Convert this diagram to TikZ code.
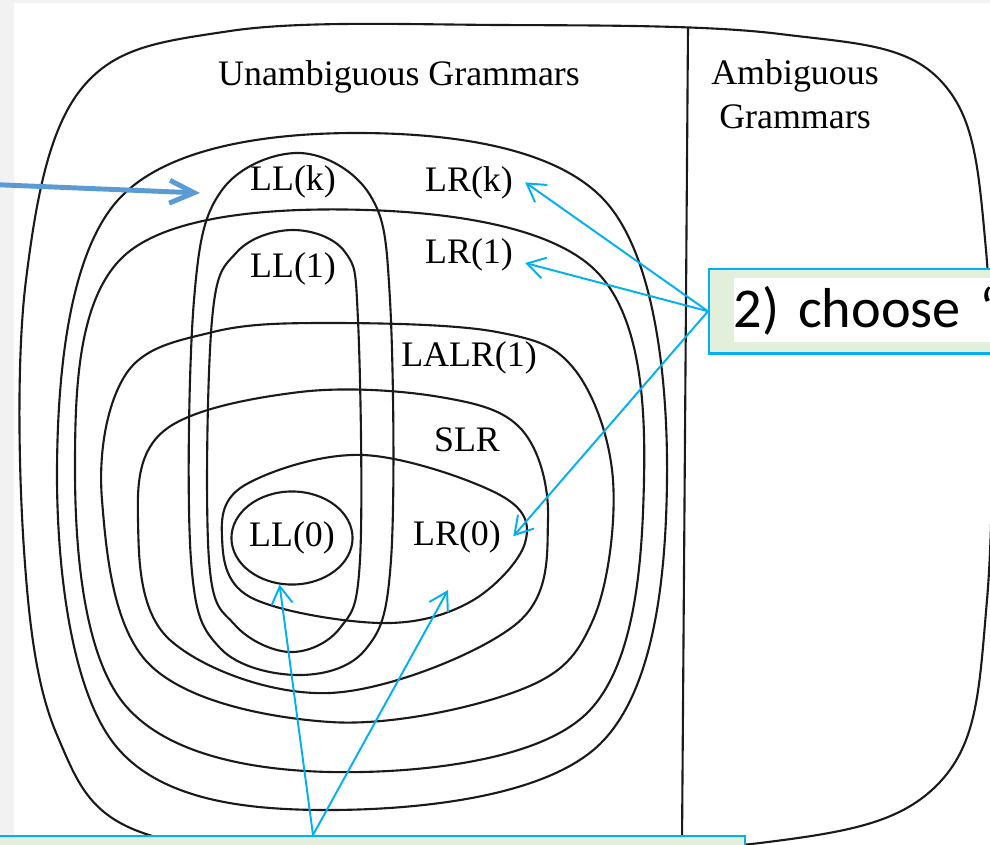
\documentclass[tikz,border=0pt]{standalone}
\usepackage{fontspec}
\setmainfont{Liberation Serif}
\newfontfamily\calloutfont{Carlito}
\usetikzlibrary{arrows.meta,shapes.geometric}
\definecolor{inkblack}{RGB}{26, 26, 26}
\definecolor{calloutcyan}{RGB}{0, 176, 240}
\definecolor{calloutgreen}{RGB}{226, 239, 218}
\definecolor{pointerblue}{RGB}{91, 155, 213}
\definecolor{pagegray}{RGB}{242, 242, 242}

\begin{document}
\begin{tikzpicture}[
    x=0.01cm, y=-0.01cm,
    region/.style={draw=inkblack, line width=0.6pt},
    loop/.style={smooth cycle, tension=0.6},
    setfont/.style={font=\fontsize{10.2}{12.25}\selectfont},
    setlabel/.style={setfont, anchor=base},
    callout/.style={
      rectangle,
      draw=calloutcyan,
      line width=0.7pt,
      fill=calloutgreen
    },
    hint/.style={-{Straight Barb[length=5pt, width=6pt]}, calloutcyan, line width=0.55pt},
    pointer/.style={-{Straight Barb[length=7pt, width=6.5pt]}, pointerblue, line width=1.4pt, line cap=round}
  ]
    \useasboundingbox (0,0) rectangle (990,845);
    \clip (0,0) rectangle (990,845);
    \fill[pagegray] (0,0) rectangle (990,845);
    \fill[white] (14,3) rectangle (990,845);

    % frame, split into unambiguous | ambiguous
    \draw[region] plot[loop] coordinates {
      (230,31) (500,25) (780,34) (940,80) (986,250) (987,600) (940,782)
      (760,843) (400,849) (146,834) (57,735) (24,550) (26,280) (82,88)};
    \draw[region] (688,28) -- (682,845);

    % LR classes, outside in
    \draw[region] plot[loop] coordinates { % LR(k)
      (360,133) (606,202) (667,480) (600,744) (330,810) (115,745) (57,470) (118,200)};
    \draw[region] plot[loop] coordinates { % LR(1)
      (367,210) (595,270) (644,480) (585,715) (330,772) (125,705) (75,470) (125,255)};
    \draw[region] plot[loop] coordinates { % LALR(1)
      (330,323) (497,332) (575,370) (613,480) (593,620) (520,690) (330,722)
      (150,665) (102,500) (126,374) (213,332)};
    \draw[region] plot[loop] coordinates { % SLR
      (300,392) (440,397) (522,430) (548,520) (515,625) (330,693) (170,640)
      (138,520) (165,430)};
    \draw[region] plot[loop] coordinates { % LR(0)
      (363,455) (500,495) (525,543) (470,602) (380,623) (250,597) (222,537) (245,485)};

    % LL classes
    \draw[region] plot[loop] coordinates { % LL(k)
      (300,153) (370,195) (390,300) (391,560) (365,650) (297,675) (220,648)
      (191,560) (194,300) (222,190)};
    \draw[region] plot[loop] coordinates { % LL(1)
      (293,230) (345,252) (358,320) (360,560) (340,628) (290,652) (235,625)
      (209,560) (212,320) (237,252)};
    \node[region, setfont, ellipse, inner sep=0pt, minimum width=1.15cm,
      minimum height=0.93cm] (ll0) at (292,538) {LL(0)};

    % labels
    \node[setlabel] (unamb) at (399,85) {Unambiguous Grammars};
    \node[setlabel, align=center] (amb) at (795,128) {Ambiguous\\Grammars};
    \node[setlabel] (llk) at (293,190) {LL(k)};
    \node[setlabel] (lrk) at (469,191) {LR(k)};
    \node[setlabel] (ll1) at (293,277) {LL(1)};
    \node[setlabel] (lr1) at (469,263) {LR(1)};
    \node[setlabel] (lalr) at (469,366) {LALR(1)};
    \node[setlabel] (slr) at (467,451) {SLR};
    \node[setlabel] (lr0) at (457,545) {LR(0)};

    % callouts
    \node[callout, anchor=north west, minimum width=3.2cm, minimum height=0.84cm] (choose) at (708,268) {};
    \node[anchor=base west, fill=white, inner sep=0pt, text height=14pt, text depth=4.3pt,
      text width=3cm, font=\calloutfont\fontsize{16}{19}\selectfont] (choosetext) at (733,327) {2) choose “};
    \node[callout, anchor=north, minimum width=8.64cm, minimum height=1cm] (note) at (313,835) {};

    \coordinate (lr0pt) at (448,590);
    \coordinate (offleft) at (-20,184);
    \coordinate (llkside) at (200,193);

    \draw[hint] (choose.west) -- (lrk.east);
    \draw[hint] (choose.west) -- (lr1.base east);
    \draw[hint] (choose.west) -- (lr0.east);
    \draw[hint] (note.north) -- (ll0.-105);
    \draw[hint] (note.north) -- (lr0pt);
    \draw[pointer] (offleft) -- (llkside);
  \end{tikzpicture}
\end{document}
